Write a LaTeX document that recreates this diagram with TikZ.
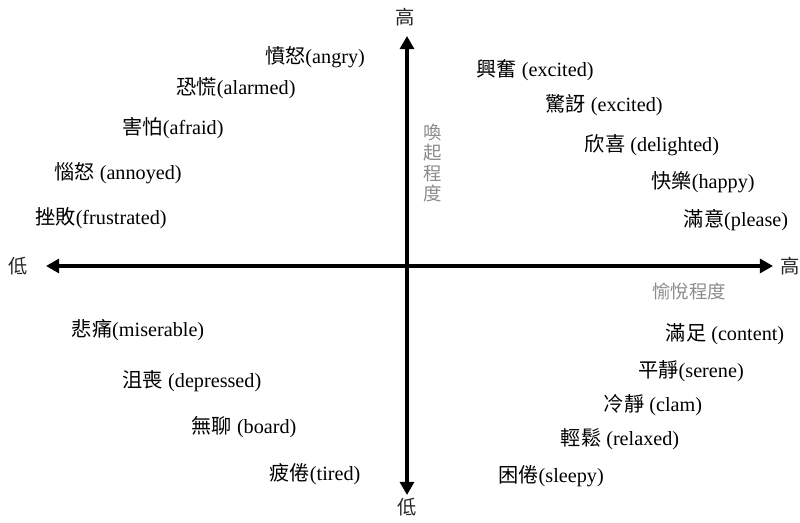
\documentclass[tikz,border=0pt]{standalone}
\usepackage{fontspec}
\setmainfont{Liberation Serif}
\newfontfamily\cjk{Noto Sans CJK TC}
\usetikzlibrary{arrows.meta}

\begin{document}
\begin{tikzpicture}[x=0.02cm, y=-0.02cm,
  emo/.style={text=black, font=\fontsize{11.5}{13}\selectfont, inner sep=1pt},
  ends/.style={text=black!85, font=\cjk\fontsize{11}{13}\selectfont, inner sep=1pt},
  title/.style={text=black!45, font=\cjk\fontsize{10.5}{11.6}\selectfont, inner sep=1pt, align=center},
  axis/.style={line width=1.8pt, {Triangle[length=7.5pt,width=8pt]}-{Triangle[length=7.5pt,width=8pt]}}]

\useasboundingbox (0,0) rectangle (800,523);

% Extrémités des axes
\coordinate (xl) at (46,266);
\coordinate (xr) at (773,266);
\coordinate (yt) at (407,36);
\coordinate (yb) at (407,495);

% Axes
\draw[axis] (xl) -- (xr);
\draw[axis] (yt) -- (yb);

\node[ends] (xlow)  at (18,266) {低};
\node[ends] (xhigh) at (790,266) {高};
\node[ends] (yhigh) at (405,17) {高};
\node[ends] (ylow)  at (407,507) {低};

% Titres des axes
\node[title] (arousal) at (433,163) {喚\\起\\程\\度};
\node[title] (pleasure) at (689,291) {愉悅程度};

% Haut gauche
\node[emo] (angry)      at (315,57)  {{\cjk 憤怒}(angry)};
\node[emo] (alarmed)    at (236,88)  {{\cjk 恐慌}(alarmed)};
\node[emo] (afraid)     at (173,128) {{\cjk 害怕}(afraid)};
\node[emo] (annoyed)    at (118,173) {{\cjk 惱怒} (annoyed)};
\node[emo] (frustrated) at (101,218) {{\cjk 挫敗}(frustrated)};

% Haut droite
\node[emo] (excited)   at (535,70)  {{\cjk 興奮} (excited)};
\node[emo] (surprised) at (604,105) {{\cjk 驚訝} (excited)};
\node[emo] (delighted) at (652,145) {{\cjk 欣喜} (delighted)};
\node[emo] (happy)     at (703,182) {{\cjk 快樂}(happy)};
\node[emo] (please)    at (736,220) {{\cjk 滿意}(please)};

% Bas gauche
\node[emo] (miserable) at (138,330) {{\cjk 悲痛}(miserable)};
\node[emo] (depressed) at (192,381) {{\cjk 沮喪} (depressed)};
\node[emo] (board)     at (244,427) {{\cjk 無聊} (board)};
\node[emo] (tired)     at (315,474) {{\cjk 疲倦}(tired)};

% Bas droite
\node[emo] (content) at (725,334) {{\cjk 滿足} (content)};
\node[emo] (serene)  at (691,371) {{\cjk 平靜}(serene)};
\node[emo] (clam)    at (653,405) {{\cjk 冷靜} (clam)};
\node[emo] (relaxed) at (620,439) {{\cjk 輕鬆} (relaxed)};
\node[emo] (sleepy)  at (551,476) {{\cjk 困倦}(sleepy)};
\end{tikzpicture}
\end{document}
